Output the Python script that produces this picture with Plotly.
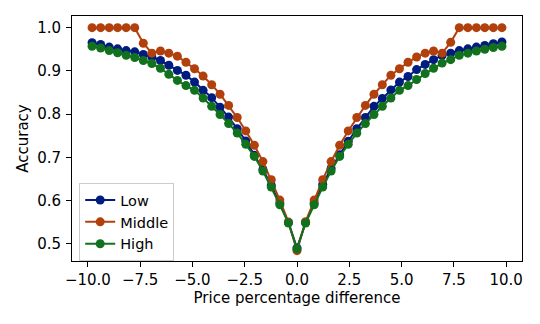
import plotly.graph_objects as go

# diferença de preço (%), 49 pontos de -9.8 a 9.8
diferenca = [-9.8, -9.39, -8.98, -8.58, -8.17, -7.76, -7.35, -6.94, -6.53, -6.13,
             -5.72, -5.31, -4.9, -4.49, -4.08, -3.68, -3.27, -2.86, -2.45, -2.04,
             -1.63, -1.23, -0.82, -0.41, 0.0, 0.41, 0.82, 1.23, 1.63, 2.04,
             2.45, 2.86, 3.27, 3.68, 4.08, 4.49, 4.9, 5.31, 5.72, 6.13,
             6.53, 6.94, 7.35, 7.76, 8.17, 8.58, 8.98, 9.39, 9.8]

acc_low = [0.965, 0.961, 0.955, 0.951, 0.947, 0.944, 0.938, 0.932, 0.924, 0.913,
           0.901, 0.890, 0.874, 0.855, 0.838, 0.816, 0.793, 0.766, 0.738, 0.705,
           0.672, 0.635, 0.594, 0.549, 0.490, 0.549, 0.594, 0.637, 0.674, 0.706,
           0.737, 0.766, 0.792, 0.818, 0.836, 0.856, 0.874, 0.887, 0.903, 0.915,
           0.926, 0.936, 0.941, 0.947, 0.951, 0.955, 0.959, 0.963, 0.967]

acc_middle = [1.0, 1.0, 1.0, 1.0, 1.0, 1.0, 0.964, 0.941, 0.946, 0.941,
              0.934, 0.920, 0.905, 0.888, 0.868, 0.846, 0.820, 0.792, 0.761, 0.728,
              0.690, 0.648, 0.601, 0.550, 0.484, 0.551, 0.601, 0.648, 0.690, 0.728,
              0.761, 0.792, 0.820, 0.846, 0.868, 0.890, 0.905, 0.920, 0.932, 0.941,
              0.946, 0.941, 0.966, 1.0, 1.0, 1.0, 1.0, 1.0, 1.0]

acc_high = [0.957, 0.953, 0.947, 0.942, 0.936, 0.931, 0.924, 0.917, 0.906, 0.892,
            0.878, 0.866, 0.855, 0.837, 0.818, 0.799, 0.778, 0.756, 0.730, 0.702,
            0.668, 0.631, 0.590, 0.548, 0.488, 0.548, 0.590, 0.631, 0.668, 0.702,
            0.730, 0.756, 0.778, 0.799, 0.818, 0.837, 0.855, 0.866, 0.880, 0.894,
            0.906, 0.918, 0.926, 0.936, 0.941, 0.946, 0.950, 0.954, 0.957]

x_ticks = [-10.0, -7.5, -5.0, -2.5, 0.0, 2.5, 5.0, 7.5, 10.0]
x_ticktext = ['\u221210.0', '\u22127.5', '\u22125.0', '\u22122.5', '0.0',
              '2.5', '5.0', '7.5', '10.0']
y_ticks = [0.5, 0.6, 0.7, 0.8, 0.9, 1.0]
y_ticktext = ['0.5', '0.6', '0.7', '0.8', '0.9', '1.0']

series = [
    ('Low', acc_low, '#001c7f'),
    ('Middle', acc_middle, '#b1400d'),
    ('High', acc_high, '#12711c'),
]

fonte = 'DejaVu Sans'

fig = go.Figure()
for nome, valores, cor in series:
    fig.add_trace(
        go.Scatter(
            x=diferenca,
            y=valores,
            mode='lines+markers',
            name=nome,
            legendgroup=nome,
            line=dict(color=cor, width=2),
            marker=dict(color=cor, size=9)
        )
    )

eixo = dict(
    ticks='outside',
    ticklen=5,
    tickwidth=1,
    tickcolor='black',
    tickfont=dict(family=fonte, size=15, color='black'),
    showline=True,
    linecolor='black',
    linewidth=1,
    mirror=True,
    showgrid=False,
    zeroline=False,
    automargin=False,
)

# a página tem margem de 8px no body, por isso l/t menores
fig.update_layout(
    width=540,
    height=324,
    autosize=False,
    paper_bgcolor='white',
    plot_bgcolor='white',
    font=dict(family=fonte, size=15, color='black'),
    margin=dict(l=64, r=26, t=8, b=71),
    showlegend=True,
    legend=dict(
        x=0.016,
        y=0.318,
        xanchor='left',
        yanchor='top',
        bgcolor='rgba(255,255,255,0.8)',
        bordercolor='#cccccc',
        borderwidth=1,
        tracegroupgap=0,
        font=dict(family=fonte, size=14.5, color='black')
    ),
    xaxis=dict(
        eixo,
        ticklabelstandoff=0,
        range=[-10.76, 10.76],
        tickvals=x_ticks,
        ticktext=x_ticktext,
        title=dict(text='Price percentage difference', standoff=4,
                   font=dict(family=fonte, size=15, color='black'))
    ),
    yaxis=dict(
        eixo,
        ticklabelstandoff=2,
        range=[0.46, 1.027],
        tickvals=y_ticks,
        ticktext=y_ticktext,
        title=dict(text='Accuracy', standoff=4,
                   font=dict(family=fonte, size=15, color='black'))
    )
)

fig.write_html("out.html")
